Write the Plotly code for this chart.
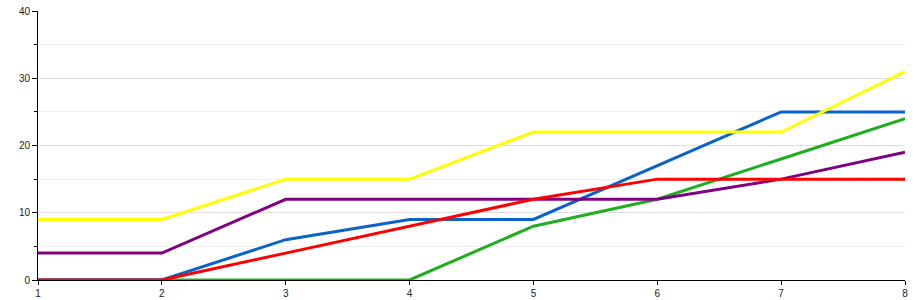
import plotly.graph_objects as go

x = [1, 2, 3, 4, 5, 6, 7, 8]
green = [0, 0, 0, 0, 8, 12, 18, 24]
blue = [0, 0, 6, 9, 9, 17, 25, 25]
yellow = [9, 9, 15, 15, 22, 22, 22, 31]
purple = [4, 4, 12, 12, 12, 12, 15, 19]
red = [0, 0, 4, 8, 12, 15, 15, 15]

series = [
    ("green", green, "#1fae1f"),
    ("blue", blue, "#0a64c8"),
    ("yellow", yellow, "#ffff00"),
    ("purple", purple, "#800080"),
    ("red", red, "#ff0000"),
]

fig = go.Figure()
for name, vals, col in series:
    fig.add_trace(go.Scatter(x=x, y=vals, mode="lines", name=name,
                             line=dict(color=col, width=3), hoverinfo="skip",
                             cliponaxis=False))

fig.update_layout(
    width=918, height=300,
    margin=dict(l=38, r=13, t=11, b=20, autoexpand=False),
    paper_bgcolor="white", plot_bgcolor="white",
    showlegend=False,
    font=dict(family="Liberation Sans, Arial, sans-serif", size=10, color="#222"),
)
fig.update_xaxes(
    range=[1, 8], tickvals=x, ticks="outside", ticklen=4, tickcolor="black",
    showline=True, linecolor="black", linewidth=1, showgrid=False, zeroline=False,
    tickfont=dict(size=10), automargin=False,
)
fig.update_yaxes(
    range=[0, 40], tickvals=[0, 10, 20, 30, 40], ticks="outside", ticklen=5,
    tickcolor="black", showline=True, linecolor="black", linewidth=1,
    showgrid=True, gridcolor="#dedede", gridwidth=1, zeroline=False,
    tickfont=dict(size=10), automargin=False,
    minor=dict(tickvals=[5, 15, 25, 35], ticks="outside", ticklen=3,
               tickcolor="black", showgrid=True, gridcolor="#f0f0f0"),
)
fig.write_html("out.html")
